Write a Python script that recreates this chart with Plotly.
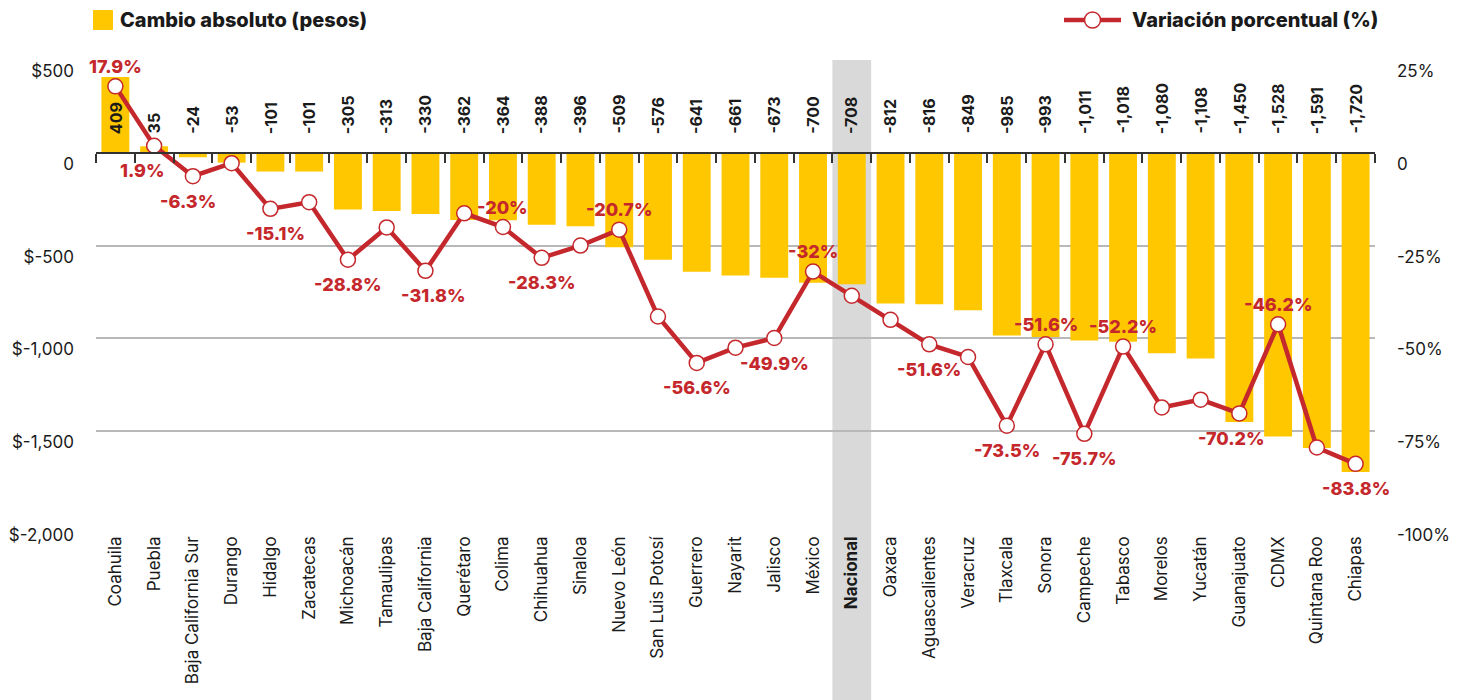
import plotly.graph_objects as go

# ---------------- data ----------------
states = ["Coahuila", "Puebla", "Baja California Sur", "Durango", "Hidalgo", "Zacatecas",
          "Michoacán", "Tamaulipas", "Baja California", "Querétaro", "Colima", "Chihuahua",
          "Sinaloa", "Nuevo León", "San Luis Potosí", "Guerrero", "Nayarit", "Jalisco",
          "México", "Nacional", "Oaxaca", "Aguascalientes", "Veracruz", "Tlaxcala", "Sonora",
          "Campeche", "Tabasco", "Morelos", "Yucatán", "Guanajuato", "CDMX", "Quintana Roo",
          "Chiapas"]

cambio_abs = [409, 35, -24, -53, -101, -101, -305, -313, -330, -362, -364, -388, -396,
              -509, -576, -641, -661, -673, -700, -708, -812, -816, -849, -985, -993,
              -1011, -1018, -1080, -1108, -1450, -1528, -1591, -1720]

var_pct = [17.9, 1.9, -6.3, -2.8, -15.1, -13.3, -28.8, -20.1, -31.8, -16.3, -20.0, -28.3,
           -25.0, -20.7, -44.1, -56.6, -52.5, -49.9, -32.0, -38.5, -45.0, -51.6, -55.0,
           -73.5, -51.6, -75.7, -52.2, -68.6, -66.5, -70.2, -46.2, -79.4, -83.8]

left_tickvals = [500, 0, -500, -1000, -1500, -2000]
left_ticktext = ["$500", "0", "$-500", "$-1,000", "$-1,500", "$-2,000"]
right_tickvals = [25, 0, -25, -50, -75, -100]
right_ticktext = ["25%", "0", "-25%", "-50%", "-75%", "-100%"]

legend_bar_text = "Cambio absoluto (pesos)"
legend_line_text = "Variación porcentual (%)"

# labelled percentages: state -> placement
pct_labels = {
    "Coahuila": "above", "Puebla": "below", "Baja California Sur": "below",
    "Hidalgo": "below", "Michoacán": "below", "Baja California": "below",
    "Colima": "above", "Chihuahua": "below", "Nuevo León": "above",
    "Guerrero": "below", "Jalisco": "below", "México": "above",
    "Aguascalientes": "below", "Tlaxcala": "below", "Sonora": "above",
    "Campeche": "below", "Tabasco": "above", "Guanajuato": "below",
    "CDMX": "above", "Chiapas": "below",
}
label_xshift = {"Puebla": -12, "Guanajuato": -8, "Baja California": 8,
                "Hidalgo": 5, "Baja California Sur": -5}

highlight = "Nacional"

# ---------------- style ----------------
YELLOW = "#FFC700"
RED = "#C5282C"
GRID = "#B8B8B8"
TXT = "#1a1a1a"
FONT = "Inter"
OFF = 8                      # page body margin offset
W, H = 1459 - OFF, 700 - OFF
ML, MT = 96 - OFF, 60 - OFF
MR = W - (1375 - OFF)
MB = H - (524 - OFF)
PW, PH = W - ML - MR, H - MT - MB


def px_x(px):
    return (px - OFF - ML) / PW


def px_y(py):
    return (H - MB - (py - OFF)) / PH


tick_text_x = [f"<b>{s}</b>" if s == highlight else s for s in states]

fig = go.Figure()

fig.add_trace(go.Bar(
    x=states, y=cambio_abs, yaxis="y",
    marker=dict(color=YELLOW, line=dict(width=0)),
    name=legend_bar_text, showlegend=False, hoverinfo="skip",
))

fig.add_trace(go.Scatter(
    x=states, y=var_pct, yaxis="y2", mode="lines+markers",
    line=dict(color=RED, width=4.5),
    marker=dict(size=15, color="white", line=dict(color=RED, width=1.5)),
    name=legend_line_text, showlegend=False, hoverinfo="skip",
))

annotations = []
# bar value labels
for s, v in zip(states, cambio_abs):
    annotations.append(dict(
        x=s, y=0, xref="x", yref="y", text=f"<b>{v:,}</b>", showarrow=False,
        textangle=-90, yanchor="bottom", xanchor="center", yshift=17,
        font=dict(family=FONT, size=16, color=TXT),
    ))
# percentage labels
for s, v in zip(states, var_pct):
    if s in pct_labels:
        above = pct_labels[s] == "above"
        annotations.append(dict(
            x=s, y=v, xref="x", yref="y2", text=f"{v:g}%", showarrow=False,
            xanchor="center", yanchor="middle", yshift=20 if above else -25,
            xshift=label_xshift.get(s, 0),
            font=dict(family=FONT, size=18, color=RED, weight=800),
        ))
# legend texts
annotations.append(dict(
    x=px_x(118), y=px_y(20), xref="paper", yref="paper", text=legend_bar_text,
    showarrow=False, xanchor="left", yanchor="middle",
    font=dict(family=FONT, size=20, color=TXT, weight=800)))
annotations.append(dict(
    x=px_x(1380), y=px_y(20), xref="paper", yref="paper", text=legend_line_text,
    showarrow=False, xanchor="right", yanchor="middle",
    font=dict(family=FONT, size=20, color=TXT, weight=800)))

hi = states.index(highlight)
shapes = [
    dict(type="rect", xref="x", yref="paper", x0=hi - 0.5, x1=hi + 0.5,
         y0=-0.6, y1=1, fillcolor="#D9D9D9", line=dict(width=0), layer="below"),
    # legend symbols
    dict(type="rect", xref="paper", yref="paper", x0=px_x(93), x1=px_x(113),
         y0=px_y(30), y1=px_y(10), fillcolor=YELLOW, line=dict(width=0)),
    dict(type="line", xref="paper", yref="paper", x0=px_x(1064), x1=px_x(1121),
         y0=px_y(20), y1=px_y(20), line=dict(color=RED, width=4.5)),
    dict(type="circle", xref="paper", yref="paper", x0=px_x(1084.5), x1=px_x(1100.5),
         y0=px_y(28), y1=px_y(12), fillcolor="white", line=dict(color=RED, width=1.5)),
]

fig.update_layout(
    width=W, height=H,
    margin=dict(l=ML, r=MR, t=MT, b=MB, autoexpand=False),
    paper_bgcolor="white", plot_bgcolor="rgba(0,0,0,0)",
    font=dict(family=FONT, size=17, color=TXT),
    bargap=0.28,
    showlegend=False,
    annotations=annotations,
    shapes=shapes,
    xaxis=dict(
        type="category", categoryorder="array", categoryarray=states,
        range=[-0.5, len(states) - 0.5],
        tickmode="array", tickvals=states, ticktext=tick_text_x,
        tickangle=-90, showgrid=False, zeroline=False,
        anchor="free", position=0.8, side="bottom",
        showline=True, linecolor="#333333", linewidth=1.5,
        ticks="outside", tickson="boundaries", ticklen=9, tickwidth=1.5,
        tickcolor="#333333",
        ticklabelstandoff=376, tickfont=dict(family=FONT, size=17, color=TXT),
    ),
    yaxis=dict(
        range=[-2000, 500], tickmode="array", tickvals=left_tickvals,
        ticktext=left_ticktext, showgrid=True, gridcolor=GRID, gridwidth=1.5,
        zeroline=False, showline=False, ticks="",
        ticklabelshift=11, ticklabelstandoff=21,
        tickfont=dict(family=FONT, size=17, color=TXT),
    ),
    yaxis2=dict(
        range=[-100, 25], overlaying="y", side="right", anchor="x",
        tickmode="array", tickvals=right_tickvals, ticktext=right_ticktext,
        showgrid=False, zeroline=False, showline=False, ticks="",
        ticklabelshift=11, ticklabelstandoff=21,
        tickfont=dict(family=FONT, size=17, color=TXT),
    ),
)

fig.write_html("out.html")
